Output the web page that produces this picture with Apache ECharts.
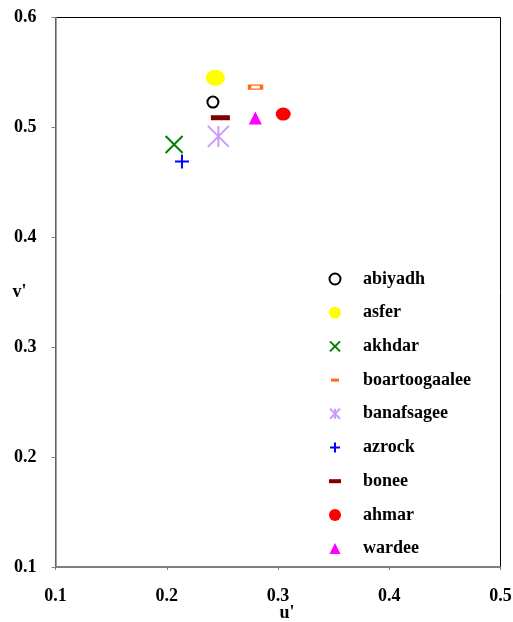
<!DOCTYPE html>
<html><head><meta charset="utf-8">
<script src="https://cdn.jsdelivr.net/npm/echarts@6/dist/echarts.min.js"></script>
<style>html,body{margin:0;padding:0;background:#fff}#c{width:513px;height:622px}</style>
</head><body><div id="c"></div>
<script>
const seriesNames = ['abiyadh','asfer','akhdar','boartoogaalee','banafsagee','azrock','bonee','ahmar','wardee'];
const uValues = [0.2415, 0.2437, 0.2066, 0.2798, 0.2464, 0.2137, 0.2482, 0.3047, 0.2796];
const vValues = [0.5230, 0.5452, 0.4845, 0.5366, 0.4918, 0.4690, 0.5088, 0.5121, 0.5085];
const xTicks = [0.1, 0.2, 0.3, 0.4, 0.5];
const yTicks = [0.1, 0.2, 0.3, 0.4, 0.5, 0.6];

const FONT = '"Liberation Serif","Times New Roman",serif';
const ELL = 'path://M0 5A5 5 0 1 1 10 5A5 5 0 1 1 0 5z';
const styles = [
  {symbol:'circle', size:11, color:'#fff', border:'#000', bw:2,
   icon:'path://M0 0M14 14M12.5 7A5.5 5.5 0 1 1 1.5 7A5.5 5.5 0 1 1 12.5 7z', ifill:'#fff', istroke:'#000'},
  {symbol:ELL, size:[19,16], color:'#FFFF00', border:'#FFFF00', bw:0,
   icon:'path://M0 0M14 14M1 7A6 6 0 1 1 13 7A6 6 0 1 1 1 7z', ifill:'#FFFF00', istroke:null},
  {symbol:'path://M0 0L10 10M10 0L0 10', size:17, color:'rgba(0,0,0,0)', border:'#008000', bw:2,
   icon:'path://M-2 -2M12 12M0 0L10 10M10 0L0 10', ifill:'rgba(0,0,0,0)', istroke:'#008000'},
  {symbol:'rect', size:[12,4], color:'#fff', border:'#FF6A1A', bw:2,
   icon:'path://M0 0M14 14M3 5.5h8v3h-8z', ifill:'#FF6A1A', istroke:null},
  {symbol:'path://M0 0L10 10M10 0L0 10M5 0L5 10', size:21, color:'rgba(0,0,0,0)', border:'#CC99FF', bw:2,
   icon:'path://M-2 -2M12 12M0 0L10 10M10 0L0 10M5 0L5 10', ifill:'rgba(0,0,0,0)', istroke:'#CC99FF'},
  {symbol:'path://M5 0L5 10M0 5L10 5', size:14, color:'rgba(0,0,0,0)', border:'#0000FF', bw:2,
   icon:'path://M-2 -2M12 12M5 0L5 10M0 5L10 5', ifill:'rgba(0,0,0,0)', istroke:'#0000FF'},
  {symbol:'rect', size:[19,5], color:'#800000', border:'#800000', bw:0,
   icon:'path://M0 0M14 14M1 5h12v4h-12z', ifill:'#800000', istroke:null},
  {symbol:ELL, size:[15,13], color:'#FF0000', border:'#FF0000', bw:0,
   icon:'path://M0 0M14 14M1 7A6 6 0 1 1 13 7A6 6 0 1 1 1 7z', ifill:'#FF0000', istroke:null},
  {symbol:'triangle', size:13, color:'#FF00FF', border:'#FF00FF', bw:0,
   icon:'path://M0 0M14 14M1.5 12.5L7 1.5L12.5 12.5z', ifill:'#FF00FF', istroke:null}
];

const series = seriesNames.map((n,i)=>({
  name:n, type:'scatter', symbol:styles[i].symbol, symbolSize:styles[i].size,
  itemStyle:{color:styles[i].color, borderColor:styles[i].border, borderWidth:styles[i].bw, opacity:1},
  emphasis:{disabled:true},
  data:[[uValues[i], vValues[i]]]
}));

const legendData = seriesNames.map((n,i)=>({
  name:n, icon:styles[i].icon,
  itemStyle: styles[i].istroke ? {color:styles[i].ifill, borderColor:styles[i].istroke, borderWidth:2}
                               : {color:styles[i].ifill, borderWidth:0}
}));

const chart = echarts.init(document.getElementById('c'), null, {renderer:'canvas'});
chart.setOption({
  animation:false,
  backgroundColor:'#fff',
  grid:{left:55.5, top:17.5, right:12.5, bottom:55, containLabel:false, outerBoundsMode:'none',
        show:true, borderColor:'#000', borderWidth:1, backgroundColor:'#fff'},
  legend:{
    orient:'vertical', left:327, top:270, padding:0, itemWidth:14, itemHeight:14, itemGap:15.7,
    selectedMode:false,
    textStyle:{fontFamily:FONT, fontWeight:'bold', fontSize:18, color:'#000', lineHeight:18, padding:[0,0,0,16]},
    data:legendData
  },
  xAxis:{
    type:'value', min:xTicks[0], max:xTicks[xTicks.length-1], interval:0.1,
    name:"u'", nameLocation:'middle', nameGap:37, nameMoveOverlap:false,
    nameTextStyle:{fontFamily:FONT, fontWeight:'bold', fontSize:18, color:'#000', padding:[0,0,0,18]},
    axisLine:{show:true, lineStyle:{color:'#808080', width:1.5}},
    axisTick:{show:true, inside:false, length:3, lineStyle:{color:'#808080'}},
    axisLabel:{margin:20, fontFamily:FONT, fontWeight:'bold', fontSize:18, color:'#000',
      formatter:v=>v.toFixed(1)},
    splitLine:{show:false}
  },
  yAxis:{
    type:'value', min:yTicks[0], max:yTicks[yTicks.length-1], interval:0.1,
    name:"v'", nameLocation:'middle', nameGap:29, nameRotate:0, nameMoveOverlap:false,
    nameTextStyle:{fontFamily:FONT, fontWeight:'bold', fontSize:18, color:'#000'},
    axisLine:{show:true, lineStyle:{color:'#808080', width:1.5}},
    axisTick:{show:true, inside:false, length:4, lineStyle:{color:'#808080'}},
    axisLabel:{margin:19, fontFamily:FONT, fontWeight:'bold', fontSize:18, color:'#000',
      formatter:v=>v.toFixed(1)},
    splitLine:{show:false}
  },
  series:series
});
</script></body></html>
